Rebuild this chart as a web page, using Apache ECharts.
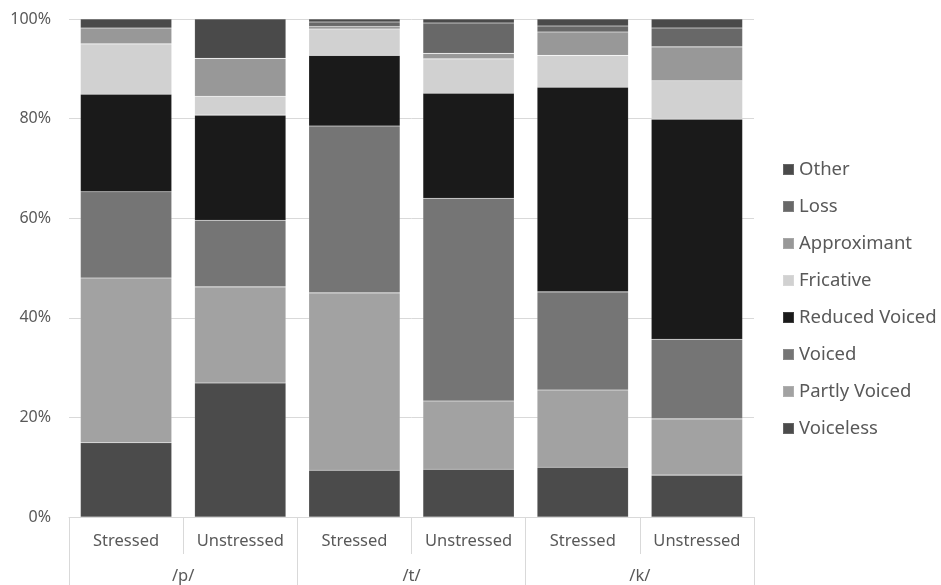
<!DOCTYPE html>
<html>
<head>
<meta charset="utf-8">
<script src="https://cdn.jsdelivr.net/npm/echarts@6/dist/echarts.min.js"></script>
<style>
  html, body { margin: 0; padding: 0; background: #ffffff; }
  #chart { width: 941px; height: 585px; }
</style>
</head>
<body>
<div id="chart"></div>
<script>
// Outcome categories per stop consonant and stress condition (percent of tokens)
const conditions = ['Stressed', 'Unstressed', 'Stressed', 'Unstressed', 'Stressed', 'Unstressed'];
const consonants = ['/p/', '/t/', '/k/'];
const yTicks = [0, 20, 40, 60, 80, 100];

const voiceless     = [14.9, 26.9,  9.4,  9.6, 10.0,  8.4];
const partlyVoiced  = [33.1, 19.3, 35.6, 13.7, 15.5, 11.3];
const voiced        = [17.3, 13.4, 33.5, 40.7, 19.7, 16.0];
const reducedVoiced = [19.6, 21.1, 14.2, 21.1, 41.1, 44.2];
const fricative     = [10.1,  3.8,  5.3,  6.9,  6.4,  7.7];
const approximant   = [ 3.2,  7.6,  0.5,  1.1,  4.7,  6.8];
const loss          = [ 0.0,  0.0,  0.9,  6.1,  1.2,  3.8];
const other         = [ 1.8,  7.9,  0.6,  0.8,  1.4,  1.8];

const seriesDefs = [
  { name: 'Voiceless',      data: voiceless,     color: '#4b4b4b' },
  { name: 'Partly Voiced',  data: partlyVoiced,  color: '#a2a2a2' },
  { name: 'Voiced',         data: voiced,        color: '#757575' },
  { name: 'Reduced Voiced', data: reducedVoiced, color: '#1a1a1a' },
  { name: 'Fricative',      data: fricative,     color: '#d1d1d1' },
  { name: 'Approximant',    data: approximant,   color: '#989898' },
  { name: 'Loss',           data: loss,          color: '#686868' },
  { name: 'Other',          data: other,         color: '#4a4a4a' }
];

const FONT = 'Noto Sans';
const TEXT = '#595959';
const LINE = '#d9d9d9';

const chart = echarts.init(document.getElementById('chart'), null, { renderer: 'canvas' });

chart.setOption({
  backgroundColor: '#ffffff',
  animation: false,
  textStyle: { fontFamily: FONT },
  grid: { left: 69, right: 187, top: 19, bottom: 68, containLabel: false, outerBoundsMode: 'none' },
  legend: {
    orient: 'vertical',
    left: 782,
    top: 159,
    padding: 0,
    itemWidth: 11,
    itemHeight: 11,
    itemGap: 16,
    icon: 'rect',
    data: seriesDefs.map(s => s.name).reverse(),
    textStyle: { fontFamily: FONT, fontSize: 18.5, lineHeight: 21, color: TEXT }
  },
  xAxis: [
    {
      type: 'category',
      data: conditions,
      position: 'bottom',
      axisLine: { show: true, lineStyle: { color: LINE, width: 1 } },
      axisTick: { show: true, length: 37, lineStyle: { color: LINE } },
      axisLabel: { margin: 16, fontSize: 16.5, color: TEXT, fontFamily: FONT }
    },
    {
      type: 'category',
      data: consonants,
      position: 'bottom',
      axisLine: { show: false },
      axisTick: { show: true, length: 70, lineStyle: { color: LINE } },
      axisLabel: { margin: 51, fontSize: 16.5, color: TEXT, fontFamily: FONT }
    }
  ],
  yAxis: {
    type: 'value',
    min: yTicks[0],
    max: yTicks[yTicks.length - 1],
    interval: 20,
    axisLine: { show: false },
    axisTick: { show: false },
    splitLine: { show: true, lineStyle: { color: LINE, width: 1 } },
    axisLabel: { formatter: '{value}%', margin: 18, fontSize: 16, color: TEXT, fontFamily: FONT }
  },
  series: seriesDefs.map(s => ({
    name: s.name,
    type: 'bar',
    stack: 'total',
    xAxisIndex: 0,
    barCategoryGap: '20%',
    data: s.data,
    itemStyle: { color: s.color, borderColor: 'rgba(255,255,255,0.15)', borderWidth: 0.6 }
  }))
});
</script>
</body>
</html>
